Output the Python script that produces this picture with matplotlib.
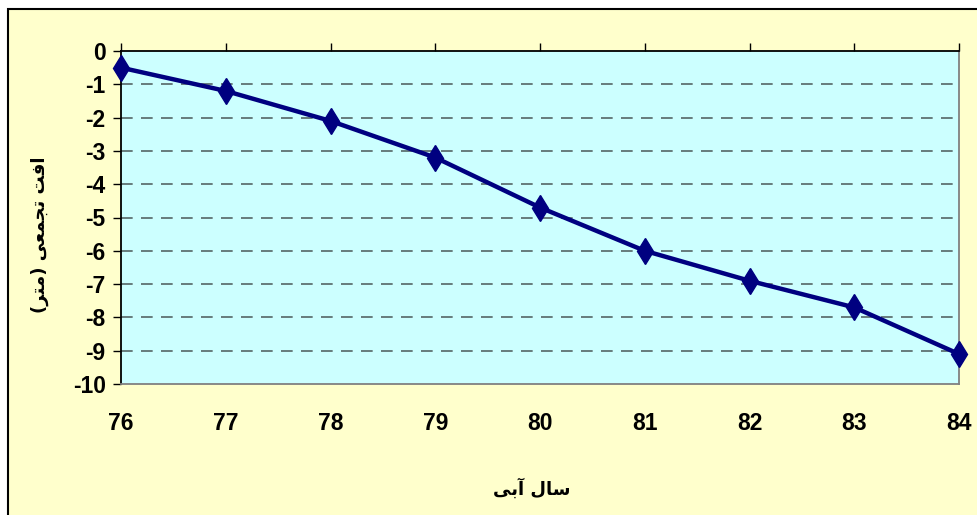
import matplotlib
matplotlib.use("Agg")
import matplotlib.pyplot as plt
from matplotlib.patches import Rectangle

# Water years and cumulative drawdown (m)
years = [76, 77, 78, 79, 80, 81, 82, 83, 84]
drawdown = [-0.5, -1.2, -2.1, -3.2, -4.7, -6.0, -6.9, -7.7, -9.1]
y_ticks = [0, -1, -2, -3, -4, -5, -6, -7, -8, -9, -10]

# Persian labels, pre-shaped into presentation forms in visual order
x_label = "\uFEF0\uFE91\uFE81 \uFEDD\uFE8E\uFEB3"  # سال آبی
y_label = "(\uFEAE\uFE98\uFEE3) \uFEF0\uFECC\uFEE4\uFEA0\uFE97 \uFE96\uFED3\uFE8D"  # افت تجمعی (متر)

chart_bg = "#FFFFCC"
plot_bg = "#CCFFFF"
navy = "#000080"

fig = plt.figure(figsize=(9.77, 5.15), dpi=100)
fig.patch.set_facecolor("white")

# Chart area with black frame
frame = Rectangle((8 / 977, -0.05), 1.1, 1 - 9 / 515 + 0.05,
                  transform=fig.transFigure, facecolor=chart_bg,
                  edgecolor="black", linewidth=1.5, zorder=-10)
fig.patches.append(frame)

ax = fig.add_axes([121 / 977, 1 - 384 / 515, (959 - 121) / 977, (384 - 51) / 515])
ax.set_zorder(1)
ax.set_facecolor(plot_bg)

ax.plot(years, drawdown, color=navy, linewidth=3.2, marker="d",
        markersize=13, markerfacecolor=navy, markeredgecolor=navy,
        zorder=5, clip_on=False)

ax.set_xlim(years[0], years[-1])
ax.set_ylim(-10, 0)
ax.set_xticks(years)
ax.set_xticklabels([str(v) for v in years])
ax.set_yticks(y_ticks)
ax.set_yticklabels([str(v) for v in y_ticks])

# Dashed gridlines at interior ticks
for v in y_ticks[1:-1]:
    ax.axhline(v, color="#556666", linewidth=1.2, linestyle=(0, (7, 5)), zorder=2)

for lbl in ax.get_xticklabels() + ax.get_yticklabels():
    lbl.set_fontfamily("Liberation Sans")
    lbl.set_fontweight("bold")
    lbl.set_fontsize(16.5)

ax.tick_params(axis="x", top=True, bottom=False, labeltop=False,
               labelbottom=True, direction="out", length=6, width=1,
               color="black", pad=14)
ax.tick_params(axis="y", left=True, direction="out", length=6, width=1,
               color="black", pad=5)

ax.spines["top"].set_color("black")
ax.spines["left"].set_color("black")
ax.spines["bottom"].set_color("#808080")
ax.spines["right"].set_color("#808080")
for s in ax.spines.values():
    s.set_linewidth(1.3)

fig.text(532 / 977, 1 - 489 / 515, x_label, ha="center", va="center",
         fontsize=13, fontweight="bold", family="DejaVu Sans")
fig.text(40 / 977, 1 - 235 / 515, y_label, ha="center", va="center",
         rotation=90, fontsize=13, fontweight="bold", family="DejaVu Sans")

fig.savefig("out.png", dpi=100, facecolor=fig.get_facecolor())
